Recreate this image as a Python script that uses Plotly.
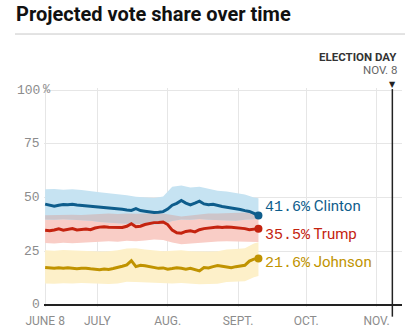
import numpy as np
import pandas as pd
import plotly.graph_objects as go

# ---------------- data ----------------
DATES = pd.date_range("2016-06-08", periods=48, freq="2D")
BAND_DATES = list(DATES[::2]) + [DATES[-1]]

CLINTON = [46.9, 46.5, 45.9, 46.4, 46.7, 46.6, 46.8, 46.5, 46.3, 46.4, 46.1, 46.0,
           45.6, 45.4, 45.2, 44.9, 44.7, 44.5, 44.2, 44.0, 44.8, 43.9, 43.6, 43.2,
           43.0, 43.1, 43.4, 44.6, 46.4, 47.3, 48.6, 47.4, 46.6, 47.4, 48.3, 47.0,
           46.6, 46.8, 46.2, 45.8, 45.5, 45.2, 44.8, 44.4, 43.9, 43.5, 42.6, 41.6]
TRUMP = [34.7, 34.5, 34.9, 35.4, 34.8, 35.0, 35.5, 34.9, 35.1, 35.3, 35.0, 35.8,
         36.2, 36.4, 36.2, 36.1, 36.3, 36.0, 36.6, 37.8, 36.4, 36.6, 37.4, 38.0,
         38.3, 38.4, 38.6, 37.4, 34.8, 33.6, 33.4, 34.2, 34.5, 34.0, 35.0, 35.5,
         35.8, 36.0, 36.2, 36.0, 36.3, 36.1, 35.9, 35.8, 35.5, 35.0, 35.3, 35.5]
JOHNSON = [17.4, 17.2, 17.0, 17.3, 17.1, 17.3, 16.9, 16.8, 17.0, 17.1, 16.8, 16.6,
           16.4, 16.7, 16.5, 16.9, 17.6, 18.0, 18.6, 20.6, 17.8, 18.4, 18.2, 17.9,
           17.4, 17.0, 17.2, 16.6, 16.9, 17.3, 17.0, 16.6, 17.0, 16.4, 15.8, 17.4,
           17.2, 17.8, 18.3, 18.0, 17.5, 17.3, 17.8, 18.2, 18.4, 20.4, 21.3, 21.6]

CLINTON_HI = [53.8, 54.0, 53.6, 53.9, 53.5, 52.8, 52.4, 52.0, 51.6, 51.0, 50.4, 50.0,
              49.8, 50.5, 55.0, 55.6, 54.6, 55.0, 54.0, 53.2, 52.8, 52.0, 51.4, 50.0, 49.6]
CLINTON_LO = [39.8, 39.6, 39.9, 39.7, 39.5, 39.2, 38.6, 38.2, 38.0, 37.8, 37.8, 37.6,
              37.4, 37.6, 39.0, 39.8, 39.6, 40.0, 39.6, 39.4, 39.2, 39.2, 39.6, 40.0, 40.0]
TRUMP_HI = [41.7, 41.9, 41.8, 42.0, 41.8, 41.9, 42.3, 42.5, 42.3, 42.6, 42.4, 42.6,
            42.8, 42.6, 42.0, 41.2, 41.6, 42.2, 42.6, 42.5, 42.7, 42.6, 42.8, 43.0, 43.2]
TRUMP_LO = [28.8, 28.6, 28.9, 28.7, 28.9, 29.0, 29.4, 29.6, 29.4, 29.8, 29.6, 30.0,
            30.4, 30.2, 29.0, 28.2, 28.6, 29.0, 29.4, 29.5, 29.6, 29.5, 29.4, 29.2, 29.3]
JOHNSON_HI = [25.4, 25.2, 25.5, 25.3, 25.4, 25.2, 24.9, 25.0, 25.4, 26.2, 26.4, 25.8,
              25.4, 25.0, 25.2, 25.4, 25.0, 24.8, 24.9, 25.0, 25.8, 26.0, 26.4, 28.6, 29.2]
JOHNSON_LO = [10.0, 9.8, 10.1, 9.9, 10.2, 10.0, 9.6, 9.7, 10.0, 10.8, 10.6, 10.4,
              10.0, 9.8, 9.9, 10.2, 9.9, 9.6, 9.7, 9.8, 10.6, 10.8, 11.0, 12.8, 13.4]

NAMES = ["Clinton", "Trump", "Johnson"]
X_TICKS = ["2016-06-08", "2016-07-01", "2016-08-01", "2016-09-01", "2016-10-01", "2016-11-01"]
X_TICK_TEXT = ["JUNE 8", "JULY", "AUG.", "SEPT.", "OCT.", "NOV."]
Y_TICKS = [0, 25, 50, 75, 100]
ELECTION_DAY = "2016-11-08"
X_RANGE = ["2016-06-07 12:00", "2016-11-12 06:00"]
Y_RANGE = [-1, 101]

# ---------------- style ----------------
W, H = 409, 335
L, R, T, B = 44, 7, 87.9, 28.4
PW, PH = W - L - R, H - T - B

LINE_COL = {"Clinton": "#0e5d8c", "Trump": "#c4230f", "Johnson": "#c09300"}
BAND_COL = {"Clinton": "#c6e3f2", "Trump": "#f9cdc6", "Johnson": "#fdf0c9"}
OVERLAP_COL = "#cdc5ca"
GRAY = "#8c8c8c"
MONO = "Liberation Mono"
SANS = "Roboto"


def px_x(px):
    return (px - L) / PW


def px_y(py):
    return (H - B - py) / PH


def ydom(v):
    return (v - Y_RANGE[0]) / (Y_RANGE[1] - Y_RANGE[0])


series = {"Clinton": CLINTON, "Trump": TRUMP, "Johnson": JOHNSON}
bands = {"Clinton": (CLINTON_LO, CLINTON_HI), "Trump": (TRUMP_LO, TRUMP_HI),
         "Johnson": (JOHNSON_LO, JOHNSON_HI)}

fig = go.Figure()


def add_band(lo, hi, color):
    fig.add_trace(go.Scatter(x=BAND_DATES, y=lo, mode="lines", line=dict(width=0, color=color),
                             hoverinfo="skip", showlegend=False))
    fig.add_trace(go.Scatter(x=BAND_DATES, y=hi, mode="lines", line=dict(width=0, color=color),
                             fill="tonexty", fillcolor=color, hoverinfo="skip", showlegend=False))


for n in ["Johnson", "Trump", "Clinton"]:
    add_band(bands[n][0], bands[n][1], BAND_COL[n])

# overlap of Clinton and Trump bands
ov_lo = np.array(CLINTON_LO)
ov_hi = np.maximum(np.array(TRUMP_HI), ov_lo)
add_band(ov_lo, ov_hi, OVERLAP_COL)

for n in ["Johnson", "Trump", "Clinton"]:
    fig.add_trace(go.Scatter(x=DATES, y=series[n], mode="lines",
                             line=dict(width=3, color=LINE_COL[n]),
                             hoverinfo="skip", showlegend=False))
    fig.add_trace(go.Scatter(x=[DATES[-1]], y=[series[n][-1]], mode="markers",
                             marker=dict(size=8, color=LINE_COL[n]),
                             hoverinfo="skip", showlegend=False))

annotations = []
LABEL_SHIFT = {"Clinton": 9, "Trump": -6, "Johnson": -4}
for n in NAMES:
    v = series[n][-1]
    annotations.append(dict(
        x=DATES[-1], y=v, xref="x", yref="y", xanchor="left", yanchor="middle",
        xshift=5, yshift=LABEL_SHIFT[n], showarrow=False,
        text=f"<span style=\"font-family:'{MONO}'\">{v:.1f}%</span> {n}",
        font=dict(family=SANS, size=15, color=LINE_COL[n])))

for v in Y_TICKS:
    annotations.append(dict(
        x=0, y=v, xref="paper", yref="y", xanchor="right", yanchor="middle",
        xshift=-2.5, showarrow=False, text=str(v),
        font=dict(family=MONO, size=13, color=GRAY)))
annotations.append(dict(
    x=0, y=Y_TICKS[-1], xref="paper", yref="y", xanchor="left", yanchor="middle",
    xshift=-3, showarrow=False, text="%", font=dict(family=MONO, size=12, color=GRAY)))

annotations += [
    dict(x=px_x(14), y=px_y(14), xref="paper", yref="paper", xanchor="left", yanchor="middle",
         showarrow=False, text="<b>Projected vote share over time</b>",
         font=dict(family=SANS, size=20, color="#111111")),
    dict(x=ELECTION_DAY, y=px_y(57), xref="x", yref="paper", xanchor="right", yanchor="middle",
         xshift=7, showarrow=False, text="<b>ELECTION DAY</b>",
         font=dict(family=SANS, size=11.5, color="#333333")),
    dict(x=ELECTION_DAY, y=px_y(70), xref="x", yref="paper", xanchor="right", yanchor="middle",
         xshift=7, showarrow=False, text="NOV. 8",
         font=dict(family=SANS, size=11.5, color="#666666")),
    dict(x=ELECTION_DAY, y=px_y(84), xref="x", yref="paper", xanchor="center", yanchor="middle",
         showarrow=False, text="▼", font=dict(family="DejaVu Sans", size=8, color="#222222")),
]

shapes = [
    dict(type="line", xref="paper", yref="paper", x0=px_x(15), x1=px_x(405),
         y0=px_y(34), y1=px_y(34), line=dict(color="#c8c8c8", width=1)),
    dict(type="line", xref="x", yref="y domain", x0=ELECTION_DAY, x1=ELECTION_DAY,
         y0=ydom(-5.5), y1=ydom(100.5), line=dict(color="#222222", width=1.5)),
]

fig.update_layout(
    width=W, height=H, autosize=False,
    margin=dict(l=L, r=R, t=T, b=B, pad=0),
    paper_bgcolor="white", plot_bgcolor="white",
    showlegend=False, hovermode=False,
    annotations=annotations, shapes=shapes,
    xaxis=dict(type="date", range=X_RANGE, tickvals=X_TICKS, ticktext=X_TICK_TEXT,
               showgrid=True, gridcolor="#e6e6e6", gridwidth=1, zeroline=False,
               showline=False, ticks="outside", ticklen=3, tickcolor="rgba(0,0,0,0)",
               tickfont=dict(family=SANS, size=12, color=GRAY), fixedrange=True),
    yaxis=dict(range=Y_RANGE, tickvals=Y_TICKS, showticklabels=False,
               showgrid=True, gridcolor="#e6e6e6", gridwidth=1,
               zeroline=True, zerolinecolor="#222222", zerolinewidth=1.5,
               showline=False, fixedrange=True),
)

fig.write_html("out.html")
